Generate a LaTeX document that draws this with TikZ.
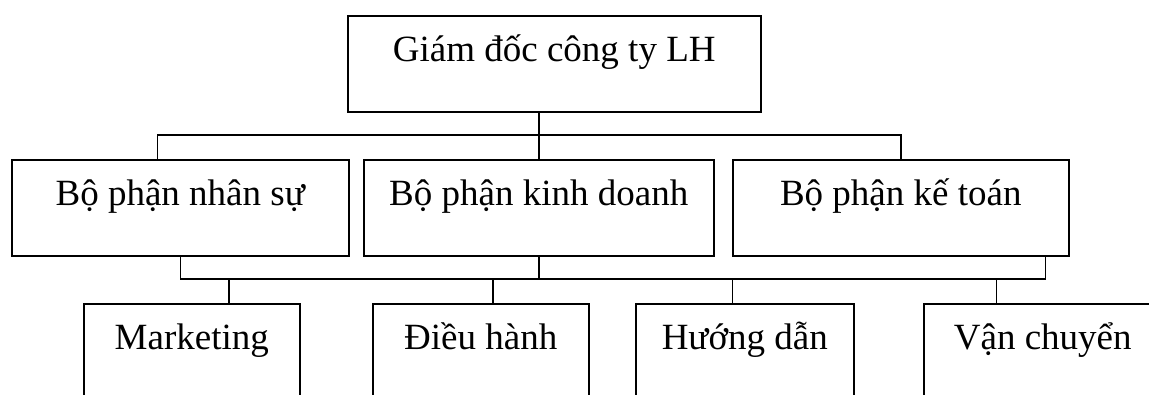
\documentclass[tikz,border=0pt]{standalone}
\usepackage{fontspec}
\setmainfont{Liberation Serif}
\usetikzlibrary{calc}

\begin{document}
\begin{tikzpicture}[x=1pt, y=-1pt,
  every node/.style={font=\fontsize{37}{44}\selectfont},
  box/.style={draw, line width=1.5pt, rectangle, inner sep=0pt,
    anchor=north west, text height=46pt},
  midbox/.style={box, minimum height=96pt, text depth=50pt},
  lowbox/.style={box, minimum height=130pt, text depth=84pt},
  link/.style={line width=1.5pt}]
\useasboundingbox (0,0) rectangle (1149,394);
\clip (0,0) rectangle (1149,394);

% director
\node[midbox, minimum width=413pt] (gd) at (347,15) {Giám đốc công ty LH};

% departments
\node[midbox, minimum width=337pt] (ns) at (11,159)  {Bộ phận nhân sự};
\node[midbox, minimum width=350pt] (kd) at (363,159) {Bộ phận kinh doanh};
\node[midbox, minimum width=336pt] (kt) at (732,159) {Bộ phận kế toán};

% units
\node[lowbox, minimum width=216pt] (mk) at (83,303)  {Marketing};
\node[lowbox, minimum width=216pt] (dh) at (372,303) {Điều hành};
\node[lowbox, minimum width=218pt] (hd) at (635,303) {Hướng dẫn};
\node[lowbox, minimum width=238pt] (vc) at (923,303) {Vận chuyển};

% attachment points on the box edges
\coordinate (nsin)  at ($(ns.north west)!0.433!(ns.north east)$);
\coordinate (ktout) at ($(kt.south west)!0.929!(kt.south east)$);
\coordinate (mkin)  at ($(mk.north west)!0.671!(mk.north east)$);
\coordinate (dhin)  at ($(dh.north west)!0.556!(dh.north east)$);
\coordinate (hdin)  at ($(hd.north west)!0.445!(hd.north east)$);
\coordinate (vcin)  at ($(vc.north west)!0.307!(vc.north east)$);

% bus lines
\coordinate (bus1) at (0,135);
\coordinate (bus2) at (0,279);

% director to departments
\draw[link] (gd.south -| kd.north) -- (kd.north);
\draw[link] (nsin) |- (bus1 -| kt.north) -- (kt.north);

% departments to units
\draw[link] (ns.south) |- (bus2 -| ktout) -- (ktout);
\draw[link] (kd.south) -- (kd.south |- bus2);
\draw[link] (mkin) -- (mkin |- bus2);
\draw[link] (dhin) -- (dhin |- bus2);
\draw[link] (hdin) -- (hdin |- bus2);
\draw[link] (vcin) -- (vcin |- bus2);
\end{tikzpicture}
\end{document}
